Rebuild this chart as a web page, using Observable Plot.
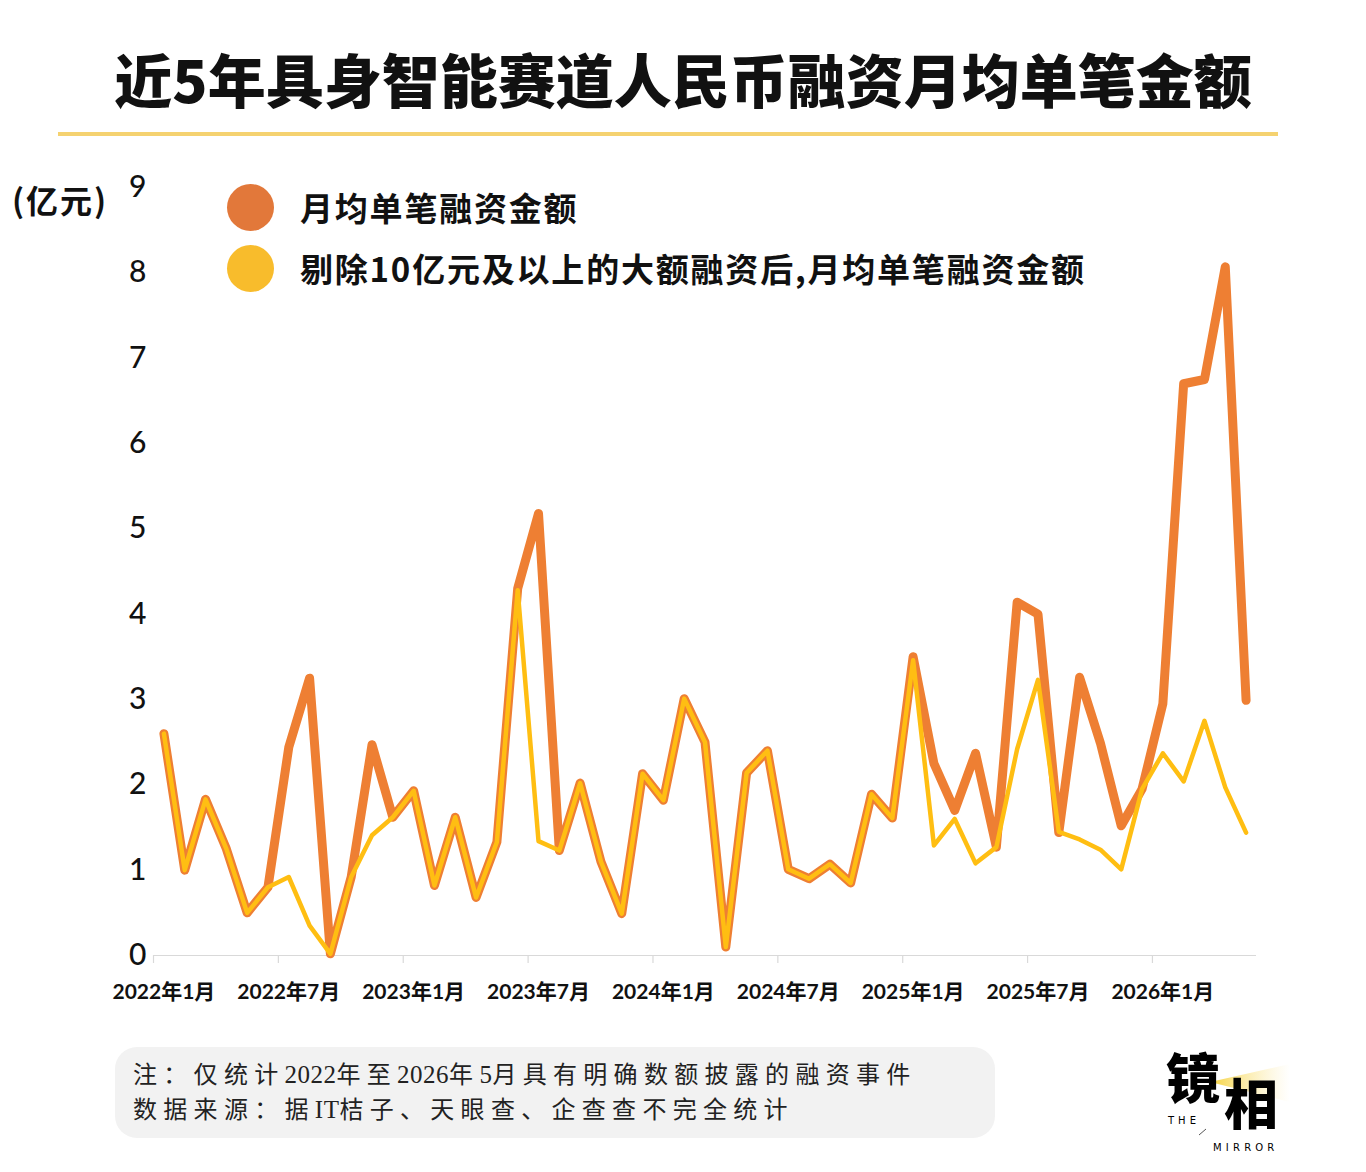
<!DOCTYPE html>
<html>
<head>
<meta charset="utf-8">
<script src="https://cdn.jsdelivr.net/npm/d3@7"></script>
<script src="https://cdn.jsdelivr.net/npm/@observablehq/plot@0.6"></script>
<style>
  html, body { margin: 0; padding: 0; background: #fff; }
  #page { position: relative; width: 1366px; height: 1172px; background: #fff; overflow: hidden; font-family: "Noto Sans CJK SC", sans-serif; color: #111; }
  #title { position: absolute; left: 0; top: 42px; width: 1366px; text-align: center; font-size: 58px; font-weight: 900; line-height: 72px; color: #111; }
  #rule { position: absolute; left: 58px; top: 132px; width: 1220px; height: 4px; background: #F5D270; }
  #chart { position: absolute; left: 0; top: 140px; }
  #unit { position: absolute; left: 12px; top: 178px; font-size: 32px; font-weight: 700; line-height: 42px; letter-spacing: 2px; }
  .leg { position: absolute; left: 227px; height: 48px; display: flex; align-items: center; }
  .leg .dot { width: 47px; height: 47px; border-radius: 50%; margin-right: 26px; flex: none; }
  .leg .lab { font-size: 33px; font-weight: 700; line-height: 48px; white-space: nowrap; letter-spacing: 1.8px; }
  #note { position: absolute; left: 115px; top: 1047px; width: 880px; height: 91px; border-radius: 22px; background: #f2f2f2; }
  #note > div { position: absolute; left: 18px; font-family: "Liberation Serif", "Noto Sans CJK SC", serif; font-size: 24px; letter-spacing: 6.3px; color: #222; white-space: nowrap; line-height: 30px; font-weight: 400; }
  #note .latin { letter-spacing: 0.5px; font-size: 25px; }
  #logoArt { position: absolute; left: 1150px; top: 1040px; }
  .logoText { position: absolute; white-space: nowrap; color: #000; }
  #logo1, #logo2 { font-family: "Noto Sans CJK SC"; font-weight: 900; font-size: 54px; line-height: 54px; height: 54px; }
  #logo3, #logo4 { font-family: "DejaVu Sans"; font-size: 10px; line-height: 11px; height: 11px; }
</style>
</head>
<body>
<div id="page">
  <div id="title"></div>
  <div id="rule"></div>
  <div id="chart"></div>
  <div id="unit"></div>
  <div class="leg" id="leg1" style="top:183px"><div class="dot"></div><div class="lab"></div></div>
  <div class="leg" id="leg2" style="top:244px"><div class="dot"></div><div class="lab"></div></div>
  <div id="note"><div id="note1" style="top:13px"></div><div id="note2" style="top:48px"></div></div>
  <div id="logoArt"></div>
  <div class="logoText" id="logo1" style="left:1166px; top:1049px;"></div>
  <div class="logoText" id="logo2" style="left:1224px; top:1075px;"></div>
  <div class="logoText" id="logo3" style="left:1168px; top:1115px; letter-spacing:4px;"></div>
  <div class="logoText" id="logo4" style="left:1213px; top:1142px; letter-spacing:4.2px;"></div>
</div>
<script>
// ---------- data ----------
const titleText = "近5年具身智能赛道人民币融资月均单笔金额";
const unitText = "(亿元)";
const seriesNames = ["月均单笔融资金额", "剔除10亿元及以上的大额融资后,月均单笔融资金额"];
const seriesColors = ["#EE7F33", "#FFBE12"];
const legendColors = ["#E2783A", "#F8BC2C"];
const noteLines = ["注：仅统计2022年至2026年5月具有明确数额披露的融资事件", "数据来源：据IT桔子、天眼查、企查查不完全统计"];
const logoTexts = ["镜", "相", "THE", "MIRROR"];

const years = [2022, 2023, 2024, 2025, 2026];
const months = [];
for (const y of years) for (let m = 1; m <= 12; m++) if (!(y === 2026 && m > 5)) months.push(y + "年" + m + "月");

const totalAvg = [2.6, 1.0, 1.83, 1.25, 0.5, 0.8, 2.44, 3.25, 0.02, 0.92, 2.47, 1.62,
  1.93, 0.82, 1.62, 0.68, 1.33, 4.3, 5.18, 1.23, 2.02, 1.1, 0.49, 2.13,
  1.82, 3.01, 2.5, 0.1, 2.14, 2.4, 1.01, 0.9, 1.07, 0.85, 1.89, 1.61,
  3.5, 2.25, 1.7, 2.37, 1.27, 4.14, 4.0, 1.44, 3.26, 2.49, 1.52, 1.95,
  2.95, 6.7, 6.75, 8.07, 2.99];
const exclAvg = [2.6, 1.0, 1.83, 1.25, 0.5, 0.8, 0.92, 0.35, 0.02, 0.92, 1.41, 1.62,
  1.93, 0.82, 1.62, 0.68, 1.33, 4.28, 1.34, 1.23, 2.02, 1.1, 0.49, 2.13,
  1.82, 3.01, 2.5, 0.1, 2.14, 2.4, 1.01, 0.9, 1.07, 0.85, 1.89, 1.61,
  3.46, 1.29, 1.6, 1.08, 1.27, 2.42, 3.23, 1.45, 1.36, 1.24, 1.01, 1.95,
  2.37, 2.04, 2.75, 1.97, 1.44];
const yTicks = [0, 1, 2, 3, 4, 5, 6, 7, 8, 9];
const xTickLabels = ["2022年1月", "2022年7月", "2023年1月", "2023年7月", "2024年1月", "2024年7月", "2025年1月", "2025年7月", "2026年1月"];

// ---------- text ----------
document.getElementById("title").textContent = titleText;
document.getElementById("unit").textContent = unitText;
[["leg1", 0], ["leg2", 1]].forEach(([id, k]) => {
  const el = document.getElementById(id);
  el.querySelector(".dot").style.background = legendColors[k];
  el.querySelector(".lab").textContent = seriesNames[k];
});
function fillNote(id, text) {
  const el = document.getElementById(id);
  text.split(/([A-Za-z0-9]+)/).forEach(part => {
    if (!part) return;
    const s = document.createElement("span");
    if (/^[A-Za-z0-9]+$/.test(part)) s.className = "latin";
    s.textContent = part;
    el.appendChild(s);
  });
}
fillNote("note1", noteLines[0]);
fillNote("note2", noteLines[1]);
logoTexts.forEach((t, k) => { document.getElementById("logo" + (k + 1)).textContent = t; });

// ---------- chart ----------
const rows = months.map((m, i) => ({ i, m, total: totalAvg[i], excl: exclAvg[i] }));
const labelIdx = xTickLabels.map(l => months.indexOf(l));
const labelPos = labelIdx.map(i => i + 0.5);
const boundaryPos = labelIdx;
const labelMap = new Map(labelPos.map((p, k) => [p, xTickLabels[k]]));
const tickFont = "Lato, 'Noto Sans CJK SC', sans-serif";

const chart = Plot.plot({
  width: 1366,
  height: 875,
  marginTop: 47,
  marginBottom: 60,
  marginLeft: 153,
  marginRight: 110,
  style: { background: "transparent", fontFamily: tickFont, color: "#111" },
  x: { type: "linear", domain: [0, months.length] },
  y: { domain: [0, 9] },
  marks: [
    Plot.ruleY([0], { stroke: "#d9d9d9", strokeWidth: 1.2 }),
    Plot.axisX(boundaryPos, { tickSize: 8, tickFormat: () => "", stroke: "#d9d9d9", strokeWidth: 1.2 }),
    Plot.axisX(labelPos, { tickSize: 0, tickPadding: 29, tickFormat: d => labelMap.get(d), fontSize: 21, fontWeight: 700, fill: "#111", fontFamily: tickFont }),
    Plot.axisY(yTicks, { tickSize: 0, tickPadding: 7, fontSize: 30, fontWeight: 500, fill: "#111", fontFamily: tickFont, tickFormat: d => String(d) }),
    Plot.line(rows, { x: d => d.i + 0.5, y: "total", stroke: seriesColors[0], strokeWidth: 9, strokeLinejoin: "round", strokeLinecap: "round" }),
    Plot.line(rows, { x: d => d.i + 0.5, y: "excl", stroke: seriesColors[1], strokeWidth: 4.5, strokeLinejoin: "round", strokeLinecap: "round" })
  ]
});
document.getElementById("chart").appendChild(chart);

// ---------- logo decoration (glow + slash) ----------
document.getElementById("logoArt").innerHTML = `
<svg width="160" height="120" viewBox="0 0 160 120" xmlns="http://www.w3.org/2000/svg">
  <defs>
    <linearGradient id="glow" x1="0" y1="0" x2="1" y2="0">
      <stop offset="0" stop-color="#F6D23C" stop-opacity="1"/>
      <stop offset="1" stop-color="#FBE9A0" stop-opacity="0"/>
    </linearGradient>
  </defs>
  <polygon points="60,42 140,24 140,62" fill="url(#glow)"/>
  <line x1="49" y1="95" x2="56" y2="89" stroke="#555" stroke-width="1"/>
</svg>`;
</script>
</body>
</html>
